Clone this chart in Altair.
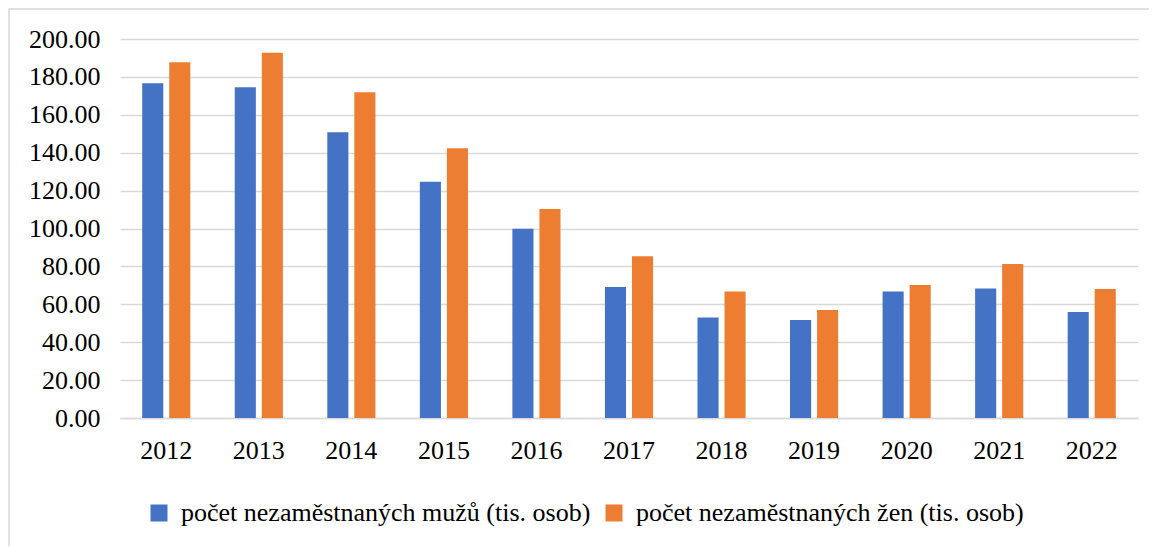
import altair as alt
import pandas as pd

years = ["2012", "2013", "2014", "2015", "2016", "2017", "2018", "2019", "2020", "2021", "2022"]
men = [176.6, 174.5, 150.8, 124.7, 99.9, 69.1, 53.1, 51.7, 66.7, 68.4, 55.9]
women = [187.7, 192.8, 171.9, 142.3, 110.3, 85.3, 66.7, 57.0, 70.2, 81.3, 68.1]
series = ["počet nezaměstnaných mužů (tis. osob)", "počet nezaměstnaných žen (tis. osob)"]
colors = ["#4472C4", "#ED7D31"]

rows = []
for i, y in enumerate(years):
    rows.append({"year": y, "series": series[0], "value": men[i]})
    rows.append({"year": y, "series": series[1], "value": women[i]})
df = pd.DataFrame(rows)

FONT = "Liberation Serif"

bars = alt.Chart(df).mark_bar().encode(
    x=alt.X("year:N", title=None, sort=years,
            scale=alt.Scale(paddingInner=0.48, paddingOuter=0.24),
            axis=alt.Axis(labelAngle=0, ticks=False, domain=True, domainColor="#d9d9d9",
                          domainWidth=1.5, labelFontSize=26, labelPadding=19,
                          labelColor="#000000", labelFont=FONT, grid=False)),
    xOffset=alt.XOffset("series:N", sort=series, scale=alt.Scale(paddingInner=0.22)),
    y=alt.Y("value:Q", title=None,
            scale=alt.Scale(domain=[0, 200], nice=False),
            axis=alt.Axis(values=list(range(0, 201, 20)), format=".2f", ticks=False, domain=False,
                          labelFontSize=26, labelFont=FONT, labelColor="#000000", labelPadding=20,
                          gridColor="#d9d9d9", gridWidth=1.5)),
    color=alt.Color("series:N", sort=series, title=None,
                    scale=alt.Scale(domain=series, range=colors),
                    legend=alt.Legend(orient="none", legendX=26, legendY=461, direction="horizontal",
                                      labelFontSize=26, labelFont=FONT, labelColor="#000000",
                                      symbolType="square", symbolSize=289,
                                      symbolStrokeWidth=0, labelOffset=9, columnPadding=10,
                                      labelLimit=700)),
)

frame = alt.Chart(pd.DataFrame({"a": [0]})).mark_rect(fill=None, stroke="#d9d9d9", strokeWidth=1.5).encode(
    x=alt.value(-111), x2=alt.value(1100), y=alt.value(-30), y2=alt.value(600)
)

chart = alt.layer(frame, bars).properties(
    width=1018, height=379,
    background="#ffffff",
    autosize=alt.AutoSizeParams(type="none"),
    padding={"left": 112, "top": 31, "right": 11, "bottom": 128},
).configure_view(stroke=None)

chart.save("out.html", embed_options={"renderer": "svg", "actions": False})
